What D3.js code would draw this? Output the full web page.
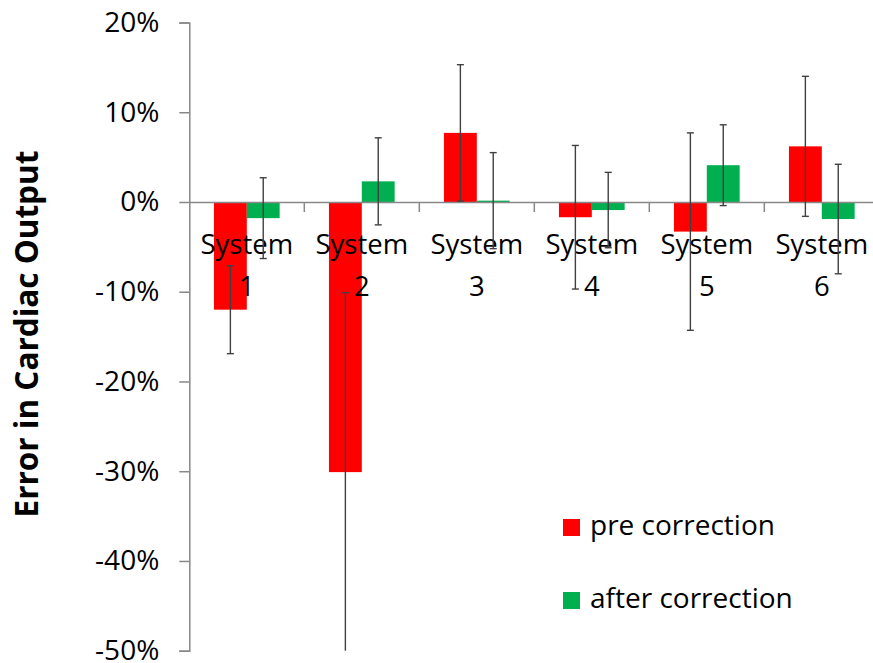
<!DOCTYPE html>
<html>
<head>
<meta charset="utf-8">
<script src="https://cdn.jsdelivr.net/npm/d3@7"></script>
<style>
    body { margin: 0; background: white; }
    svg { display: block; }
</style>
</head>
<body>
<div id="chart"></div>
<script>
//data (percent)
var systems = ["System 1", "System 2", "System 3", "System 4", "System 5", "System 6"];
var seriesNames = ["pre correction", "after correction"];
var seriesColors = ["#ff0000", "#00b050"];
var preValues = [-12.0, -30.1, 7.7, -1.7, -3.3, 6.2];
var preErrors = [4.9, 20.0, 7.6, 8.0, 11.0, 7.8];
var afterValues = [-1.8, 2.3, 0.15, -0.9, 4.1, -1.9];
var afterErrors = [4.5, 4.85, 5.35, 4.2, 4.5, 6.1];
var yTicks = [20, 10, 0, -10, -20, -30, -40, -50];

var width = 873;
var height = 663;
var font = "'Open Sans', sans-serif";

var svg = d3.select("#chart")
    .append("svg")
    .attr("width", width)
    .attr("height", height);

//scales
var y = d3.scaleLinear()
    .domain([-50, 20])
    .range([650.7, 22.5]);

var x0 = d3.scaleBand()
    .domain(systems)
    .range([189.3, 189.3 + 6 * 115])
    .paddingInner(0.4286)
    .paddingOuter(0.2143);

var x1 = d3.scaleBand()
    .domain(seriesNames)
    .range([0, x0.bandwidth()]);

//rows for the bars
var rows = [];
systems.forEach(function(s, i) {
    rows.push({ sys: s, name: seriesNames[0], v: preValues[i], e: preErrors[i], c: seriesColors[0] });
    rows.push({ sys: s, name: seriesNames[1], v: afterValues[i], e: afterErrors[i], c: seriesColors[1] });
});

//y axis
var yAxis = d3.axisLeft(y)
    .tickValues(yTicks)
    .tickSize(10)
    .tickPadding(20)
    .tickFormat(function(d) { return d + "%"; });

var gy = svg.append("g")
    .attr("transform", "translate(189.3,0)")
    .call(yAxis);
gy.select(".domain").attr("stroke", "#888").attr("stroke-width", 1.5);
gy.selectAll(".tick line").attr("stroke", "#888").attr("stroke-width", 1.5);
gy.selectAll(".tick text")
    .attr("font-family", font)
    .attr("font-size", 28)
    .attr("fill", "#000");

//axis title
svg.append("text")
    .attr("transform", "translate(38," + 334 + ") rotate(-90)")
    .attr("text-anchor", "middle")
    .attr("font-family", font)
    .attr("font-weight", "bold")
    .attr("font-size", 31.5)
    .attr("fill", "#000")
    .text("Error in Cardiac Output");

//bars
svg.append("g")
    .selectAll("rect")
    .data(rows)
    .enter()
    .append("rect")
    .attr("x", function(d) { return x0(d.sys) + x1(d.name); })
    .attr("y", function(d) { return y(Math.max(0, d.v)); })
    .attr("width", x1.bandwidth())
    .attr("height", function(d) { return Math.abs(y(d.v) - y(0)); })
    .attr("fill", function(d) { return d.c; });

//zero line with category ticks
var xAxis = d3.axisBottom(x0)
    .tickSize(0)
    .tickFormat("");
var gx = svg.append("g")
    .attr("transform", "translate(0," + y(0) + ")")
    .call(xAxis);
gx.select(".domain").attr("stroke", "#888").attr("stroke-width", 1.5);
gx.selectAll(".sep")
    .data(systems.slice(1))
    .enter()
    .append("line")
    .attr("class", "sep")
    .attr("x1", function(d) { return x0(d) - x0.step() * 0.2143; })
    .attr("x2", function(d) { return x0(d) - x0.step() * 0.2143; })
    .attr("y1", 0)
    .attr("y2", 10)
    .attr("stroke", "#888")
    .attr("stroke-width", 1.5);

//category labels, two lines each
var labels = svg.append("g")
    .selectAll("text")
    .data(systems)
    .enter()
    .append("text")
    .attr("text-anchor", "middle")
    .attr("font-family", font)
    .attr("font-size", 27.5)
    .attr("fill", "#000");
labels.append("tspan")
    .attr("x", function(d) { return x0(d) + x0.bandwidth() / 2; })
    .attr("y", y(0) + 52)
    .text(function(d) { return d.split(" ")[0]; });
labels.append("tspan")
    .attr("x", function(d) { return x0(d) + x0.bandwidth() / 2; })
    .attr("y", y(0) + 94)
    .text(function(d) { return d.split(" ")[1]; });

//error bars (clipped at the axis bottom, no cap there)
var errs = svg.append("g")
    .selectAll("g")
    .data(rows)
    .enter()
    .append("g")
    .attr("stroke", "#404040")
    .attr("stroke-width", 1.4);

function cx(d) { return x0(d.sys) + x1(d.name) + x1.bandwidth() / 2; }
var lo = y.domain()[0];

errs.append("line")
    .attr("x1", cx)
    .attr("x2", cx)
    .attr("y1", function(d) { return y(d.v + d.e); })
    .attr("y2", function(d) { return y(Math.max(lo, d.v - d.e)); });
errs.append("line")
    .attr("x1", function(d) { return cx(d) - 3.5; })
    .attr("x2", function(d) { return cx(d) + 3.5; })
    .attr("y1", function(d) { return y(d.v + d.e); })
    .attr("y2", function(d) { return y(d.v + d.e); });
errs.filter(function(d) { return d.v - d.e >= lo; })
    .append("line")
    .attr("x1", function(d) { return cx(d) - 3.5; })
    .attr("x2", function(d) { return cx(d) + 3.5; })
    .attr("y1", function(d) { return y(d.v - d.e); })
    .attr("y2", function(d) { return y(d.v - d.e); });

//legend
var legend = svg.append("g")
    .selectAll("g")
    .data(seriesNames)
    .enter()
    .append("g")
    .attr("transform", function(d, i) { return "translate(563," + (519 + i * 73) + ")"; });
legend.append("rect")
    .attr("width", 17)
    .attr("height", 17)
    .attr("fill", function(d, i) { return seriesColors[i]; });
legend.append("text")
    .attr("x", 27)
    .attr("y", 16)
    .attr("font-family", font)
    .attr("font-size", 28)
    .attr("fill", "#000")
    .text(function(d) { return d; });
</script>
</body>
</html>
